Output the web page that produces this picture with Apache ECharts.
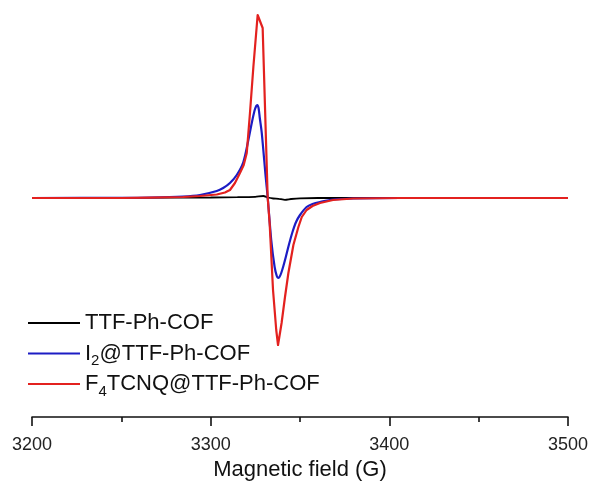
<!DOCTYPE html>
<html>
<head>
<meta charset="utf-8">
<script src="https://cdn.jsdelivr.net/npm/echarts@6/dist/echarts.min.js"></script>
<style>
html,body{margin:0;padding:0;background:#fff;}
#chart{width:592px;height:484px;}
</style>
</head>
<body>
<div id="chart"></div>
<script>
// ---- Data ----
const seriesNames = ['TTF-Ph-COF', 'I2@TTF-Ph-COF', 'F4TCNQ@TTF-Ph-COF'];
const xTicks = [3200, 3300, 3400, 3500];

const blackField = [3200, 3280, 3300, 3315, 3325, 3329.5, 3332, 3335, 3338, 3341.6, 3345, 3350, 3360, 3500];
const blackValue = [0, 0.3, 0.5, 0.8, 1.2, 2, 0.5, -0.5, -0.8, -1.8, -1, -0.3, 0, 0];

const blueField = [3200, 3250, 3266, 3284.5, 3294, 3303.4, 3307, 3310.8, 3314.6, 3318.3, 3321.1, 3323, 3324.5, 3325.5, 3326.1, 3326.8, 3327.5, 3328.6, 3330.8, 3331.9, 3333.9, 3335.8, 3337, 3337.7, 3338.5, 3339.5, 3340.7, 3342.2, 3343.9, 3345.8, 3347.8, 3350, 3353.7, 3357, 3361.2, 3368.5, 3379.7, 3406, 3500];
const blueValue = [0, 0.2, 0.5, 1.5, 3, 7, 10, 15, 23, 36, 58, 75, 87, 92, 93, 90, 80, 65, 21, 1, -42, -69, -78, -80, -79, -75, -68, -58, -46, -34, -24, -17, -9, -6, -4, -1.5, -0.5, 0, 0];

const redField = [3200, 3250, 3266, 3284.5, 3294, 3303.4, 3308, 3310.8, 3313.6, 3316.4, 3318.5, 3320.2, 3322, 3323.9, 3326.3, 3329.1, 3331.9, 3333.0, 3334.9, 3336.7, 3337.7, 3339.7, 3341.6, 3343.5, 3346.3, 3349.1, 3351, 3353.7, 3357, 3361.2, 3368.5, 3379.7, 3406, 3500];
const redValue = [0, 0, 0.3, 1, 2, 3.5, 5.5, 8, 15, 25, 33, 45, 85, 131, 183, 170, 1, -25, -92, -132, -147, -125, -99, -75, -47, -29, -19, -12, -8, -5, -2, -0.5, 0, 0];

// ---- Build ----
const zip = (a, b) => a.map((v, i) => [v, b[i]]);
const FONT = "'Liberation Sans', Arial, sans-serif";

const legendRich = {
  t: { fontSize: 22, fontFamily: FONT, color: '#111', lineHeight: 30 },
  s: { fontSize: 15, fontFamily: FONT, color: '#111', lineHeight: 10, verticalAlign: 'bottom' }
};
const legendLabel = {
  'TTF-Ph-COF': '{t|TTF-Ph-COF}',
  'I2@TTF-Ph-COF': '{t|I}{s|2}{t|@TTF-Ph-COF}',
  'F4TCNQ@TTF-Ph-COF': '{t|F}{s|4}{t|TCNQ@TTF-Ph-COF}'
};

const chart = echarts.init(document.getElementById('chart'));
chart.setOption({
  animation: false,
  backgroundColor: '#fff',
  grid: { left: 32, right: 24, top: 10, bottom: 67, outerBoundsMode: 'none' },
  legend: {
    orient: 'vertical',
    left: 28,
    top: 308,
    padding: 0,
    itemWidth: 52,
    itemHeight: 2,
    itemGap: 0.5,
    icon: 'rect',
    data: seriesNames,
    formatter: n => legendLabel[n],
    textStyle: { rich: legendRich, fontSize: 22, lineHeight: 30, fontFamily: FONT }
  },
  xAxis: {
    type: 'value',
    min: xTicks[0],
    max: xTicks[xTicks.length - 1],
    interval: 100,
    name: 'Magnetic field (G)',
    nameLocation: 'middle',
    nameGap: 41,
    nameTextStyle: { fontSize: 22, fontFamily: FONT, color: '#111' },
    axisLine: { onZero: false, lineStyle: { color: '#111', width: 1.6 } },
    axisTick: { show: true, inside: false, length: 9, lineStyle: { color: '#111', width: 1.6 } },
    minorTick: { show: true, splitNumber: 2, length: 5, lineStyle: { color: '#111', width: 1.6 } },
    axisLabel: { fontSize: 18, fontFamily: FONT, color: '#222', margin: 19, formatter: v => String(v) },
    splitLine: { show: false }
  },
  yAxis: {
    type: 'value',
    show: false,
    min: -219,
    max: 188,
    splitLine: { show: false }
  },
  series: [
    { name: seriesNames[0], type: 'line', data: zip(blackField, blackValue), showSymbol: false, smooth: 0.2, color: '#000000', lineStyle: { width: 1.8 } },
    { name: seriesNames[1], type: 'line', data: zip(blueField, blueValue), showSymbol: false, smooth: 0.3, color: '#1c1cc4', lineStyle: { width: 2.2 } },
    { name: seriesNames[2], type: 'line', data: zip(redField, redValue), showSymbol: false, color: '#e3211f', lineStyle: { width: 2.2, join: 'round' } }
  ]
});
</script>
</body>
</html>
